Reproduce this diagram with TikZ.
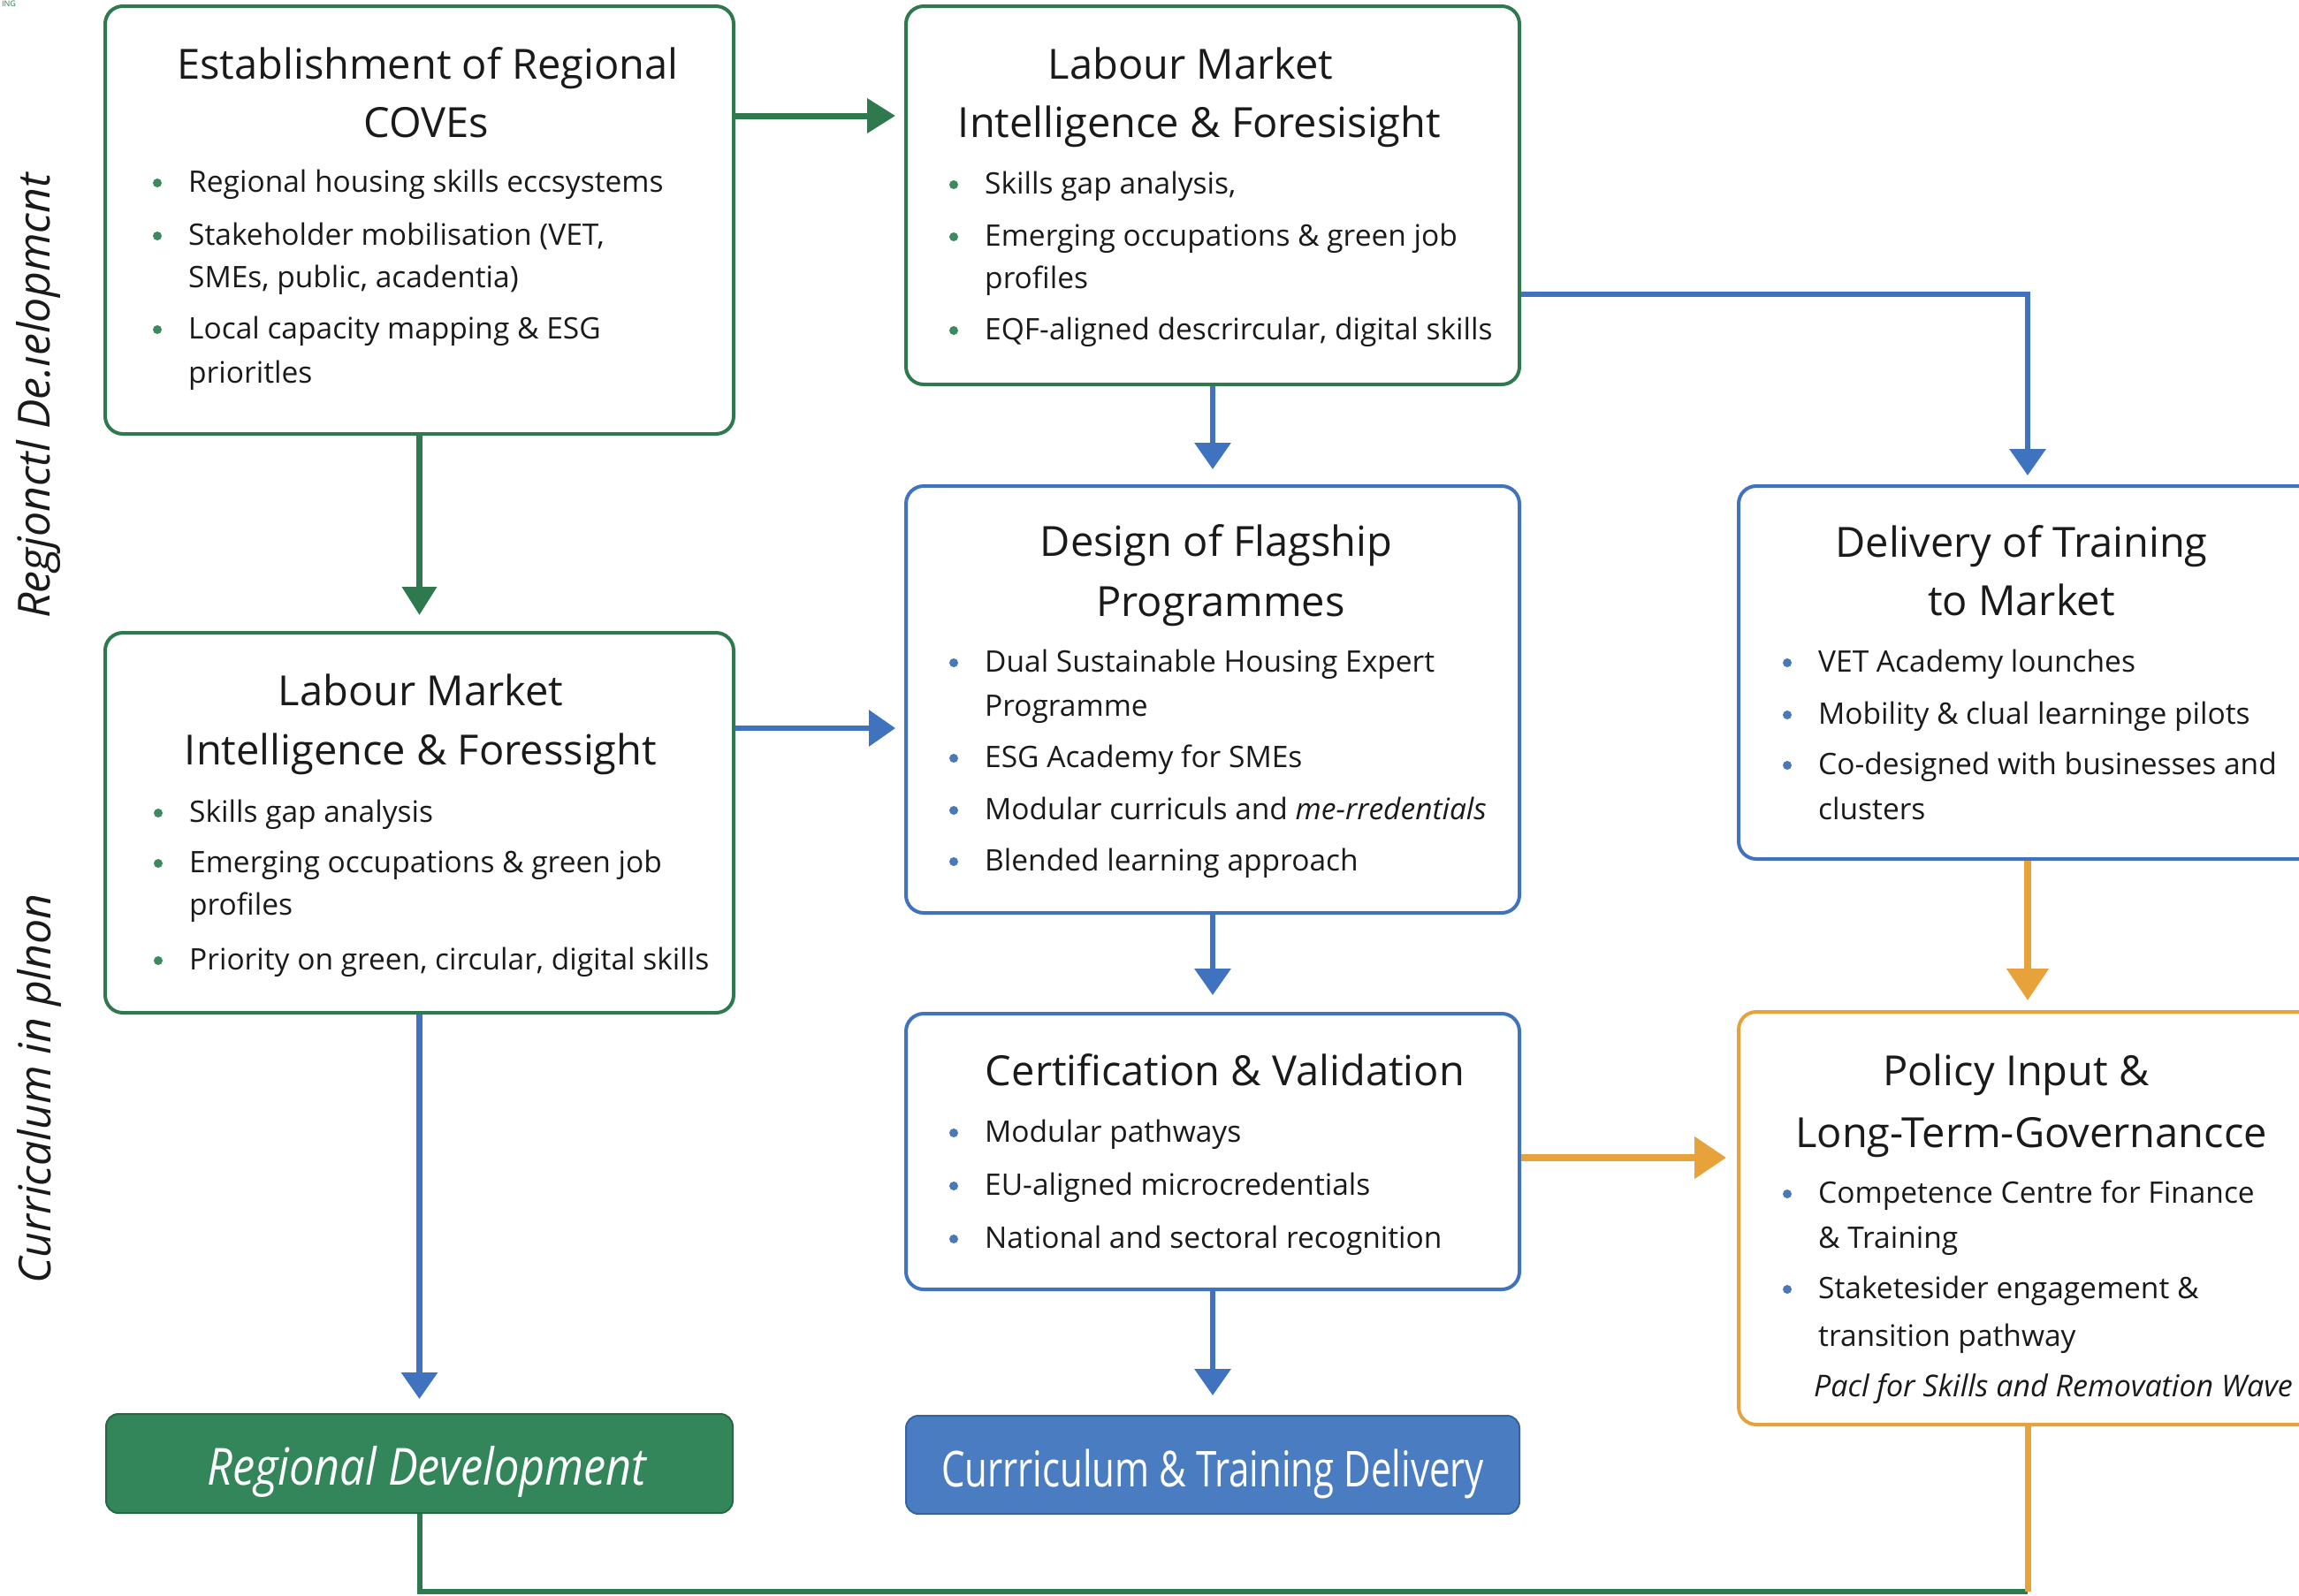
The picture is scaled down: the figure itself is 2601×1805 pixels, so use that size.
\documentclass[tikz,border=0pt]{standalone}
\usepackage{fontspec}
\setmainfont{Open Sans}
\newfontfamily\condA[FakeStretch=0.87]{Open Sans}
\newfontfamily\condB[FakeStretch=0.75]{Open Sans}
\usetikzlibrary{arrows.meta}
\definecolor{gline}{HTML}{2E7A4E}
\definecolor{gfill}{HTML}{33855A}
\definecolor{gdot}{HTML}{3C8A5E}
\definecolor{bline}{HTML}{3F73BF}
\definecolor{bfill}{HTML}{4A7CC2}
\definecolor{bdot}{HTML}{4A78B8}
\definecolor{oline}{HTML}{E8A23C}
\definecolor{txt}{HTML}{1A1A1A}
\tikzset{
  card/.style={draw, line width=4pt, rounded corners=20pt, fill=white, inner sep=0pt},
  ttl/.style={font=\fontsize{47}{56}\selectfont, anchor=base, inner sep=0pt, text=txt},
  btx/.style={font=\fontsize{33.5}{40}\selectfont, anchor=base west, inner sep=0pt, text=txt},
  ga/.style={draw=gline, line width=7pt, -{Triangle[width=38pt,length=32pt]}},
  ba/.style={draw=bline, line width=6.5pt, -{Triangle[width=40pt,length=30pt]}},
  oa/.style={draw=oline, line width=8pt, -{Triangle[width=46pt,length=36pt]}},
  side/.style={font=\fontsize{50}{58}\selectfont\itshape, text=txt, rotate=90, inner sep=0pt}
}
\newcommand{\bulitem}[5]{%
  \fill[#2] ({#3-35},{#4-10}) circle (5);
  \node[btx] (#1) at (#3,#4) {#5};}
\newcommand{\contline}[4]{\node[btx] (#1) at (#2,#3) {#4};}
\begin{document}
\begin{tikzpicture}[x=1pt,y=-1pt]
\useasboundingbox (0,0) rectangle (2601,1805);
\clip (0,0) rectangle (2601,1805);
\fill[white] (0,0) rectangle (2601,1805);

% tiny corner mark
\node[anchor=north west, inner sep=0pt, text=gline, font=\fontsize{9}{10}\selectfont] (mark) at (2,1) {ING};

% side labels
\node[side] (s1) at (44,448) {Regjonctl De.ıelopmcnt};
\node[side] (s2) at (44,1232) {Curricalum in plnon};

% cards
\node[card, draw=gline, minimum width=711pt, minimum height=484pt] (A) at (474.5,249) {};
\node[card, draw=gline, minimum width=694pt, minimum height=428pt] (B) at (1372,221) {};
\node[card, draw=gline, minimum width=711pt, minimum height=430pt] (C) at (474.5,931) {};
\node[card, draw=bline, minimum width=694pt, minimum height=483pt] (D) at (1372,791.5) {};
\node[card, draw=bline, minimum width=654pt, minimum height=422pt] (E) at (2294,761) {};
\node[card, draw=bline, minimum width=694pt, minimum height=312pt] (F) at (1372,1303) {};
\node[card, draw=oline, minimum width=654pt, minimum height=467pt] (G) at (2294,1378.5) {};
\node[draw=gline!85!black, fill=gfill, line width=2pt, rounded corners=14pt, minimum width=709pt, minimum height=112pt, inner sep=0pt] (H) at (474.5,1656) {};
\node[draw=bline!85!black, fill=bfill, line width=2pt, rounded corners=14pt, minimum width=694pt, minimum height=111pt, inner sep=0pt] (I) at (1372,1657.5) {};

% card A
\node[ttl] (At1) at (484,89) {Establishment of Regional};
\node[ttl] (At2) at (482,155) {COVEs};
\bulitem{A1}{gdot}{213}{217}{Regional housing skills eccsystems}
\bulitem{A2}{gdot}{213}{277}{Stakeholder mobilisation (VET,}
\contline{A3}{213}{325}{SMEs, public, acadentia)}
\bulitem{A4}{gdot}{213}{383}{Local capacity mapping \& ESG}
\contline{A5}{213}{433}{prioritles}

% card B
\node[ttl] (Bt1) at (1347,89) {Labour Market};
\node[ttl] (Bt2) at (1357,155) {Intelligence \& Foresisight};
\bulitem{B1}{gdot}{1114}{219}{Skills gap analysis,}
\bulitem{B2}{gdot}{1114}{278}{Emerging occupations \& green job}
\contline{B3}{1114}{326}{profiles}
\bulitem{B4}{gdot}{1114}{384}{EQF-aligned descrircular, digital skills}

% card C
\node[ttl] (Ct1) at (476,798) {Labour Market};
\node[ttl] (Ct2) at (476,865) {Intelligence \& Foressight};
\bulitem{C1}{gdot}{214}{930}{Skills gap analysis}
\bulitem{C2}{gdot}{214}{987}{Emerging occupations \& green job}
\contline{C3}{214}{1035}{profiles}
\bulitem{C4}{gdot}{214}{1097}{Priority on green, circular, digital skills}

% card D
\node[ttl] (Dt1) at (1376,629) {Design of Flagship};
\node[ttl] (Dt2) at (1381,697) {Programmes};
\bulitem{D1}{bdot}{1114}{760}{Dual Sustainable Housing Expert}
\contline{D2}{1114}{810}{Programme}
\bulitem{D3}{bdot}{1114}{868}{ESG Academy for SMEs}
\bulitem{D4}{bdot}{1114}{927}{Modular curriculs and \textit{me-rredentials}}
\bulitem{D5}{bdot}{1114}{985}{Blended learning approach}

% card E
\node[ttl] (Et1) at (2287,630) {Delivery of Training};
\node[ttl] (Et2) at (2287,696) {to Market};
\bulitem{E1}{bdot}{2057}{760}{VET Academy lounches}
\bulitem{E2}{bdot}{2057}{819}{Mobility \& clual learninge pilots}
\bulitem{E3}{bdot}{2057}{876}{Co-designed with businesses and}
\contline{E4}{2057}{927}{clusters}

% card F
\node[ttl] (Ft1) at (1386,1228) {Certification \& Validation};
\bulitem{F1}{bdot}{1114}{1292}{Modular pathways}
\bulitem{F2}{bdot}{1114}{1352}{EU-aligned microcredentials}
\bulitem{F3}{bdot}{1114}{1412}{National and sectoral recognition}

% card G
\node[ttl] (Gt1) at (2281,1228) {Policy Input \&};
\node[ttl] (Gt2) at (2298,1298) {Long-Term-Governancce};
\bulitem{G1}{bdot}{2057}{1361}{Competence Centre for Finance}
\contline{G2}{2057}{1412}{\& Training}
\bulitem{G3}{bdot}{2057}{1469}{Staketesider engagement \&}
\contline{G4}{2057}{1523}{transition pathway}
\node[btx, font=\fontsize{34}{40}\selectfont\itshape] (G5) at (2052,1580) {Pacl for Skills and Removation Wave};

% filled labels
\node[anchor=base, inner sep=0pt, text=white, font=\condA\itshape\fontsize{58}{66}\selectfont] (Ht) at (483,1680) {Regional Development};
\node[anchor=base, inner sep=0pt, text=white, font=\condB\fontsize{56}{66}\selectfont] (It) at (1372,1682) {Currriculum \& Training Delivery};

% helper levels
\coordinate (yAB) at (0,131);
\coordinate (yBE) at (0,333);
\coordinate (yCD) at (0,824);
\coordinate (yFG) at (0,1310);
\coordinate (ybot) at (0,1801);

% connectors
\draw[ga, shorten >=10pt] (A.east |- yAB) -- (B.west |- yAB);
\draw[ga, shorten >=18pt] (A.south) -- (C.north);
\draw[ba, shorten >=17pt] (B.south) -- (D.north);
\draw[ba, shorten >=10pt] (B.east |- yBE) -| (E.north);
\draw[ba, shorten >=10pt] (C.east |- yCD) -- (D.west |- yCD);
\draw[ba, shorten >=16pt] (C.south) -- (H.north);
\draw[ba, shorten >=19pt] (D.south) -- (F.north);
\draw[oa, shorten >=11pt] (E.south) -- (G.north);
\draw[oa, shorten >=12pt] (F.east |- yFG) -- (G.west |- yFG);
\draw[ba, shorten >=22pt] (F.south) -- (I.north);
\draw[draw=gline, line width=6pt] (H.south) -- (H.south |- ybot) -- (G.south |- ybot);
\draw[draw=oline, line width=7pt] (G.south) -- (G.south |- ybot);
\end{tikzpicture}
\end{document}
